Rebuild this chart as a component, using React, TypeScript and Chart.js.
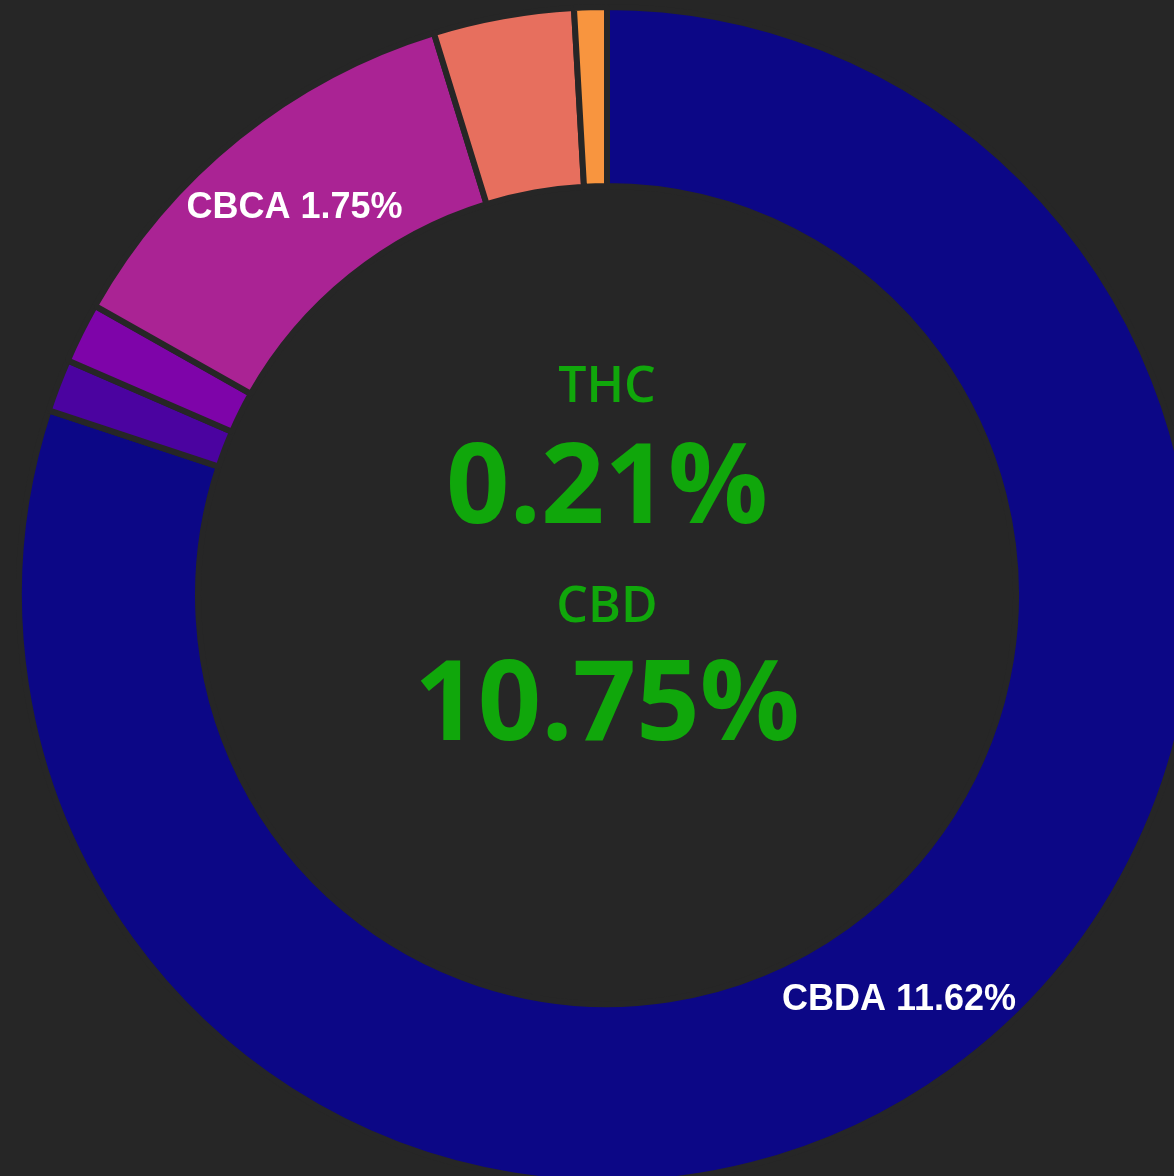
import React, { useEffect, useRef } from 'react';
import { Chart, registerables } from 'chart.js';

Chart.register(...registerables);

const categories = ['CBDA', 'CBGA', 'THCA', 'CBCA', 'CBD', 'CBG'];
const values = [11.62, 0.21, 0.24, 1.75, 0.56, 0.13];
const colors = ['#0c0786', '#4b03a0', '#7e04a9', '#aa2394', '#e76f5e', '#f8953f'];
const centerTitles = ['THC', 'CBD'];
const centerValues = ['0.21%', '10.75%'];
const labelThreshold = 1;

const BG = '#262626';
const GREEN = '#10a70b';

const labelPlugin = {
  id: 'sliceLabels',
  afterDatasetsDraw(chart: any) {
    const ctx = chart.ctx;
    const meta = chart.getDatasetMeta(0);
    ctx.save();
    ctx.font = 'bold 36px Arial, "Liberation Sans", sans-serif';
    ctx.fillStyle = '#ffffff';
    ctx.textAlign = 'center';
    ctx.textBaseline = 'middle';
    meta.data.forEach((arc: any, i: number) => {
      const v = values[i];
      if (v < labelThreshold) return;
      const p = arc.tooltipPosition();
      ctx.fillText(`${categories[i]} ${v.toFixed(2)}%`, p.x, p.y + 1);
    });
    ctx.restore();
  },
};

const centerPlugin = {
  id: 'centerText',
  afterDraw(chart: any) {
    const ctx = chart.ctx;
    const { left, right, top, bottom } = chart.chartArea;
    const cx = (left + right) / 2;
    const cy = (top + bottom) / 2;
    ctx.save();
    ctx.fillStyle = GREEN;
    ctx.textAlign = 'center';
    ctx.textBaseline = 'alphabetic';
    ctx.font = '600 50px "Open Sans", "Noto Sans", sans-serif';
    ctx.fillText(centerTitles[0], cx, cy - 193);
    ctx.font = 'bold 111px "Open Sans", "Noto Sans", sans-serif';
    ctx.fillText(centerValues[0], cx, cy - 72);
    ctx.font = '600 50px "Open Sans", "Noto Sans", sans-serif';
    ctx.fillText(centerTitles[1], cx, cy + 27);
    ctx.font = 'bold 111px "Open Sans", "Noto Sans", sans-serif';
    ctx.fillText(centerValues[1], cx, cy + 145);
    ctx.restore();
  },
};

export default function App() {
  const ref = useRef<HTMLCanvasElement | null>(null);
  useEffect(() => {
    if (!ref.current) return;
    const chart = new Chart(ref.current, {
      type: 'doughnut',
      data: {
        labels: categories,
        datasets: [
          {
            data: values,
            backgroundColor: colors,
            borderColor: BG,
            borderWidth: 6,
            hoverOffset: 0,
          },
        ],
      },
      options: {
        animation: false,
        responsive: true,
        maintainAspectRatio: false,
        cutout: '69.56%',
        layout: { padding: 0 },
        plugins: {
          legend: { display: false },
          tooltip: { enabled: false },
        },
      },
      plugins: [labelPlugin, centerPlugin],
    });
    return () => chart.destroy();
  }, []);

  return (
    <div style={{ position: 'fixed', left: 0, top: 0, width: 1174, height: 1176, overflow: 'hidden', background: BG }}>
      <div style={{ position: 'absolute', left: 16, top: 4, width: 1182, height: 1182 }}>
        <canvas ref={ref} />
      </div>
    </div>
  );
}
